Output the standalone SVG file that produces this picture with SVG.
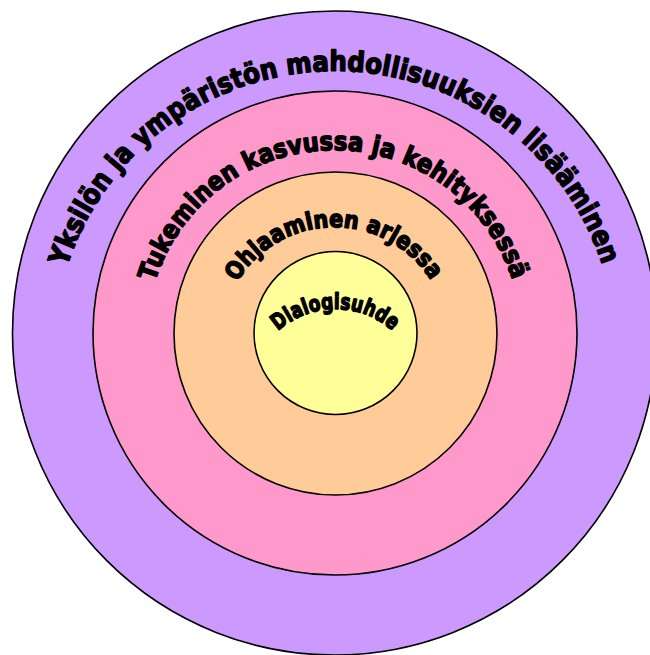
<svg xmlns="http://www.w3.org/2000/svg" width="650" height="655" viewBox="0 0 650 655">
  <defs>
    <style>
      .ring { stroke: #000; stroke-width: 1.6; }
      .lbl { font-family: "DejaVu Sans", Verdana, sans-serif; font-weight: bold; fill: #000; stroke: #000; stroke-width: 1.5; stroke-linejoin: round; }
    </style>
    <path id="arc1" d="M 67 267 A 281.2 281.2 0 0 1 603 267"/>
    <path id="arc2" d="M 155 282 A 187.4 187.4 0 0 1 513 282"/>
    <path id="arc3" d="M 237 282.1 A 113.9 113.9 0 0 1 432 282.1"/>
    <path id="arc4" d="M 278.1 331 A 86 86 0 0 1 392.9 331"/>
  </defs>
  <rect width="650" height="655" fill="#fff"/>
  <g id="ring-outer">
    <circle class="ring" cx="334.5" cy="333" r="322" fill="#CC99FF"/>
    <text class="lbl" font-size="28"><textPath href="#arc1" textLength="708" lengthAdjust="spacingAndGlyphs">Yksilön ja ympäristön mahdollisuuksien lisääminen</textPath></text>
  </g>
  <g id="ring-pink">
    <circle class="ring" cx="335" cy="333" r="242" fill="#FF99CC"/>
    <text class="lbl" font-size="26"><textPath href="#arc2" textLength="474" lengthAdjust="spacingAndGlyphs">Tukeminen kasvussa ja kehityksessä</textPath></text>
  </g>
  <g id="ring-orange">
    <circle class="ring" cx="335.5" cy="333.5" r="161.5" fill="#FFCC99"/>
    <text class="lbl" font-size="24"><textPath href="#arc3" textLength="232" lengthAdjust="spacingAndGlyphs">Ohjaaminen arjessa</textPath></text>
  </g>
  <g id="ring-yellow">
    <circle class="ring" cx="335.5" cy="333" r="81.5" fill="#FFFF99"/>
    <text class="lbl" font-size="22"><textPath href="#arc4" textLength="125" lengthAdjust="spacingAndGlyphs">Dialogisuhde</textPath></text>
  </g>
  <g id="connectors"/>
</svg>
